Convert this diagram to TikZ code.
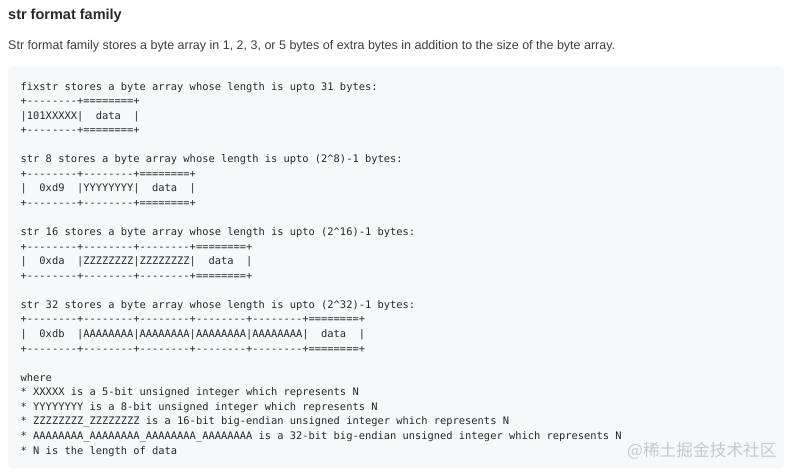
\documentclass[tikz,border=0pt]{standalone}
\usepackage{fontspec}
\setmainfont{Liberation Sans}
\setmonofont{DejaVu Sans Mono}
\newfontfamily\cjkfont{Noto Sans CJK SC}
\usetikzlibrary{positioning}

\definecolor{codebg}{HTML}{F6F8FA}
\definecolor{textdark}{HTML}{24292E}
\definecolor{markgray}{HTML}{C6C8CC}

\begin{document}
\begin{tikzpicture}[x=1pt,y=-1pt,
    codeblock/.style={anchor=base west, inner sep=0pt, align=left, text=textdark,
      font=\ttfamily\fontsize{10.4}{14.56}\selectfont},
    heading/.style={anchor=base west, inner sep=0pt, text=textdark,
      font=\bfseries\fontsize{14.5}{17}\selectfont},
    para/.style={anchor=base west, inner sep=0pt, text=textdark!90,
      font=\fontsize{12.5}{14}\selectfont}]

    % Page
    \useasboundingbox (0,0) rectangle (793,476);

    % Title and text
    \node[heading] (title) at (8,19.5) {str format family};
    \node[para] (intro) at (8,49.3) {Str format family stores a byte array in 1, 2, 3, or 5 bytes of extra bytes in addition to the size of the byte array.};

    % Code box
    \fill[codebg, rounded corners=4pt] (8,66.5) rectangle (784,468);

    % fixstr (placed at the baseline of its last line)
    \node[codeblock] (fixstr) at (20.5,133.7) {fixstr stores a byte array whose length is upto 31 bytes:\\
+--------+========+\\
|101XXXXX|~~data~~|\\
+--------+========+};

    % str 8
    \node[codeblock] (streight) at (20.5,206.5) {str 8 stores a byte array whose length is upto (2\textasciicircum8)-1 bytes:\\
+--------+--------+========+\\
|~~0xd9~~|YYYYYYYY|~~data~~|\\
+--------+--------+========+};

    % str 16
    \node[codeblock] (strsixteen) at (20.5,279.3) {str 16 stores a byte array whose length is upto (2\textasciicircum16)-1 bytes:\\
+--------+--------+--------+========+\\
|~~0xda~~|ZZZZZZZZ|ZZZZZZZZ|~~data~~|\\
+--------+--------+--------+========+};

    % str 32
    \node[codeblock] (strthirtytwo) at (20.5,352.1) {str 32 stores a byte array whose length is upto (2\textasciicircum32)-1 bytes:\\
+--------+--------+--------+--------+--------+========+\\
|~~0xdb~~|AAAAAAAA|AAAAAAAA|AAAAAAAA|AAAAAAAA|~~data~~|\\
+--------+--------+--------+--------+--------+========+};

    % where
    \node[codeblock] (where) at (20.5,454) {where\\
* XXXXX is a 5-bit unsigned integer which represents N\\
* YYYYYYYY is a 8-bit unsigned integer which represents N\\
* ZZZZZZZZ\_ZZZZZZZZ is a 16-bit big-endian unsigned integer which represents N\\
* AAAAAAAA\_AAAAAAAA\_AAAAAAAA\_AAAAAAAA is a 32-bit big-endian unsigned integer which represents N\\
* N is the length of data};

    % Watermark
    \node[anchor=base west, inner sep=0pt, text=markgray, font=\cjkfont\fontsize{16.7}{18}\selectfont] (mark) at (627,456.5) {@稀土掘金技术社区};

\end{tikzpicture}
\end{document}
